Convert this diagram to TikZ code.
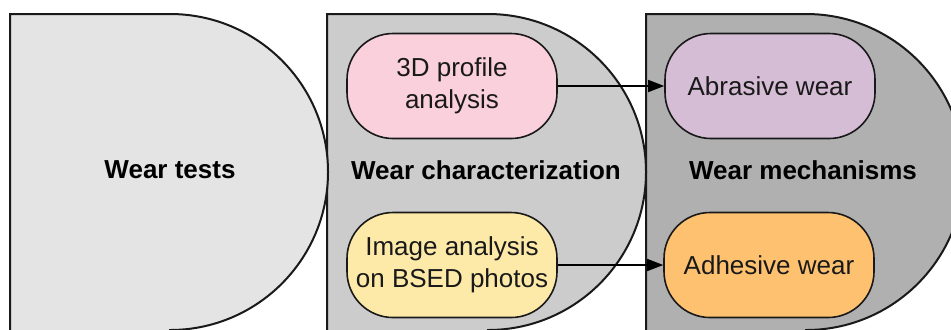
\documentclass[tikz,border=0pt]{standalone}
\usepackage{fontspec}
\setmainfont{Liberation Sans}
\usepackage{xcolor}
\usetikzlibrary{arrows.meta, positioning}

\definecolor{stageA}{HTML}{E4E4E4}
\definecolor{stageB}{HTML}{CCCCCC}
\definecolor{stageC}{HTML}{B0B0B0}
\definecolor{pinkbox}{HTML}{F9D0DC}
\definecolor{yellowbox}{HTML}{FEEAA8}
\definecolor{lilacbox}{HTML}{D5BDD5}
\definecolor{orangebox}{HTML}{FDC170}

\begin{document}
\begin{tikzpicture}[x=0.5pt, y=-0.5pt, >={Triangle[length=8pt,width=6pt]},
  stage/.style={draw=black!90, line width=1pt},
  title/.style={font=\fontsize{13}{16}\selectfont\bfseries},
  pill/.style={draw=black!90, line width=0.8pt, rounded corners=23pt,
    minimum width=105pt, minimum height=52.5pt, inner sep=2pt, align=center,
    font=\fontsize{13}{16}\selectfont, text=black!90},
  link/.style={->, line width=0.75pt}]
  \useasboundingbox (0,0) rectangle (951,329);
  \clip (0,0) rectangle (951,329);
  % 三个阶段的 D 形背景
  \fill[white] (0,0) rectangle (951,329);
  \draw[stage, fill=stageC] (646,345) -- (646,14) -- (806,14)
    arc[start angle=-90, end angle=90, radius=158] -- (806,345) -- cycle;
  \draw[stage, fill=stageB] (327,345) -- (327,14) -- (488,14)
    arc[start angle=-90, end angle=90, radius=158] -- (488,345) -- cycle;
  \draw[stage, fill=stageA] (10,345) -- (10,14) -- (170,14)
    arc[start angle=-90, end angle=90, radius=158] -- (170,345) -- cycle;
  % 阶段标题
  \node[title] (tests) at (170,170) {Wear tests};
  \node[title] (charac) at (486,170) {Wear characterization};
  \node[title] (mech) at (803,170) {Wear mechanisms};
  % 表征方法与磨损机制
  \node[pill, fill=pinkbox] (profile) at (452,86) {3D profile\\analysis};
  \node[pill, fill=yellowbox] (image) at (452,265) {Image analysis\\on BSED photos};
  \node[pill, fill=lilacbox] (abrasive) at (770,86) {Abrasive wear};
  \node[pill, fill=orangebox] (adhesive) at (769,265) {Adhesive wear};
  % 箭头
  \draw[link] (profile) -- (abrasive);
  \draw[link] (image) -- (adhesive);
\end{tikzpicture}
\end{document}
